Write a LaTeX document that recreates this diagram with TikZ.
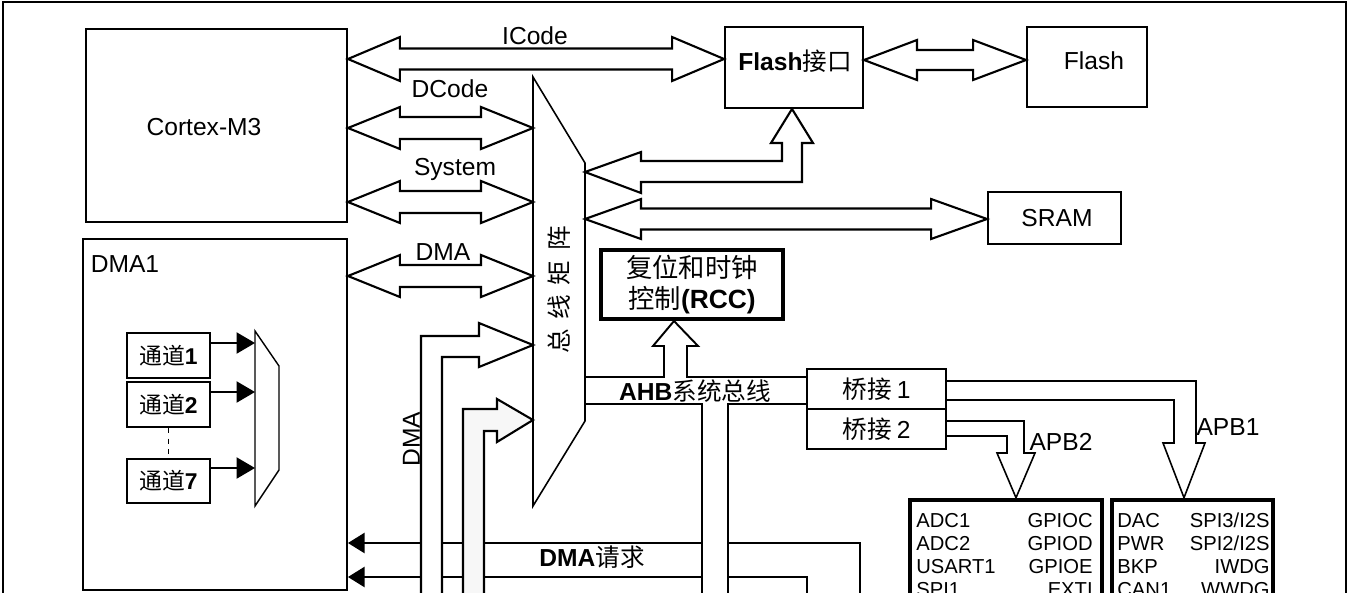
\documentclass[tikz,border=0pt]{standalone}
\usepackage{fontspec}
\setmainfont{Liberation Sans}
\newfontfamily\cjk{Noto Sans CJK SC}
\usetikzlibrary{calc,arrows.meta}

% wide bus arrow with a head at both ends: from, to, head length, head half width, shaft half width
\newcommand{\fatbus}[5]{%
  \draw[bus] (#1) -- ($(#1)+(#3,-#4)$) -- ($(#1)+(#3,-#5)$) -- ($(#2)+(-#3,-#5)$)
    -- ($(#2)+(-#3,-#4)$) -- (#2) -- ($(#2)+(-#3,#4)$) -- ($(#2)+(-#3,#5)$)
    -- ($(#1)+(#3,#5)$) -- ($(#1)+(#3,#4)$) -- cycle;}

\begin{document}
\begin{tikzpicture}[x=0.02cm,y=-0.02cm]
  \tikzstyle{box}=[draw,line width=1.1pt,inner sep=0pt]
  \tikzstyle{heavy}=[draw,line width=2.3pt,inner sep=0pt]
  \tikzstyle{txt}=[inner sep=0pt,font=\fontsize{14}{16}\selectfont,text height=10pt,text depth=0pt]
  \tikzstyle{small}=[inner sep=0pt,font=\fontsize{11.5}{13}\selectfont,text height=8.2pt,text depth=0pt]
  \tikzstyle{chan}=[box,minimum width=1.66cm,minimum height=0.9cm,font=\fontsize{13}{15}\selectfont]
  \tikzstyle{bus}=[draw,line width=1.2pt,fill=white]
  \tikzstyle{link}=[draw,line width=1.1pt]
  \tikzstyle{apb}=[draw,line width=0.9pt]
  \tikzstyle{tri}=[link,-{Triangle[length=9.5pt,width=11.5pt]}]

  \useasboundingbox (0,0) rectangle (1352,592);
  \clip (0,0) rectangle (1352,592);
  \draw[line width=1.3pt] (3,650) -- (3,2) -- (1346,2) -- (1346,650);

  % blocks
  \node[box,minimum width=5.22cm,minimum height=3.86cm] (cm) at (216.5,125.5) {};
  \node[txt] (cm-t) at (204,126.5) {Cortex-M3};
  \node[box,minimum width=5.28cm,minimum height=7.02cm] (dma1) at (215,414.5) {};
  \node[txt] (dma1-t) at (125,263.5) {DMA1};
  \node[box,minimum width=2.76cm,minimum height=1.62cm] (fi) at (794,67.5) {};
  \node[txt] (fi-t) at (795,62) {\textbf{Flash}{\cjk 接口}};
  \node[box,minimum width=2.4cm,minimum height=1.6cm] (fl) at (1087,67) {};
  \node[txt] (fl-t) at (1094,61) {Flash};
  \node[box,minimum width=2.66cm,minimum height=1.04cm] (sram) at (1054.5,218) {};
  \node[txt] (sram-t) at (1057,218) {SRAM};
  \node[heavy,minimum width=3.64cm,minimum height=1.38cm,align=center,
        font=\fontsize{15}{18}\selectfont] (rcc) at (692,284.5)
        {{\cjk 复位和时钟}\\{\cjk 控制}\textbf{(RCC)}};
  \node[box,minimum width=2.78cm,minimum height=0.8cm,font=\fontsize{14}{16}\selectfont]
        (br1) at (876.5,389) {{\cjk 桥接}\hspace{3pt}1};
  \node[box,minimum width=2.78cm,minimum height=0.8cm,font=\fontsize{14}{16}\selectfont]
        (br2) at (876.5,429) {{\cjk 桥接}\hspace{3pt}2};
  \node[heavy,line width=2.6pt,minimum width=3.84cm,minimum height=3.2cm] (apb2) at (1006,580) {};
  \node[heavy,line width=2.6pt,minimum width=3.22cm,minimum height=3.2cm] (apb1) at (1192.5,580) {};
  \foreach \l/\r [count=\i] in {ADC1/GPIOC,ADC2/GPIOD,USART1/GPIOE,SPI1/EXTI}
    {\node[small,anchor=west] (a2l\i) at (916,497+23*\i) {\l};
     \node[small,anchor=east] (a2r\i) at (1093,497+23*\i) {\r};}
  \foreach \l/\r [count=\i] in {DAC/{SPI3/I2S},PWR/{SPI2/I2S},BKP/IWDG,CAN1/WWDG}
    {\node[small,anchor=west] (a1l\i) at (1117,497+23*\i) {\l};
     \node[small,anchor=east] (a1r\i) at (1270,497+23*\i) {\r};}

  % DMA1 channels and selector
  \node[chan] (ch1) at (168.5,355.5) {{\cjk 通道}\textbf{1}};
  \node[chan] (ch2) at (168.5,404.5) {{\cjk 通道}\textbf{2}};
  \node[chan,minimum height=0.88cm] (ch7) at (168.5,481) {{\cjk 通道}\textbf{7}};
  \draw[line width=1pt,dash pattern=on 3pt off 3pt] (ch2.south) -- (ch7.north);
  \draw[line width=0.8pt] (255,331) -- (279,366) -- (279,470) -- (255,506) -- cycle;
  \coordinate (mux1) at (255,343);
  \coordinate (mux2) at (255,392);
  \coordinate (mux7) at (255,468);
  \draw[link,-{Triangle[length=10.5pt,width=12pt]}] (ch1.east |- mux1) -- (mux1);
  \draw[link,-{Triangle[length=10.5pt,width=12pt]}] (ch2.east |- mux2) -- (mux2);
  \draw[link,-{Triangle[length=10.5pt,width=12pt]}] (ch7.east |- mux7) -- (mux7);

  % DMA requests
  \coordinate (rq1) at (860,620);
  \coordinate (rq2) at (807,620);
  \draw[tri] (rq1) -- (860,543) -- (dma1.east |- 0,543);
  \draw[tri] (rq2) -- (807,577) -- (dma1.east |- 0,577);
  \node[txt] (rq-t) at (592,558) {\textbf{DMA}{\cjk 请求}};

  % bus matrix
  \coordinate (bm-tl) at (533,77);
  \coordinate (bm-tr) at (585,163);
  \coordinate (bm-br) at (585,421);
  \coordinate (bm-bl) at (533,506);
  \coordinate (bm-dc) at (533,128);
  \coordinate (bm-sys) at (533,202);
  \coordinate (bm-dma) at (533,276);
  \coordinate (bm-in1) at (533,345);
  \coordinate (bm-in2) at (533,420);
  \coordinate (bm-fl) at (585,172);
  \coordinate (bm-sr) at (585,219);
  \coordinate (bm-ahb1) at (585,377);
  \coordinate (bm-ahb2) at (585,404);
  \draw[line width=0.9pt] (bm-tl) -- (bm-tr) -- (bm-br) -- (bm-bl) -- cycle;
  \node[txt,rotate=90] (bm-t) at (560,290)
        {\cjk 总\hspace{5.5pt}线\hspace{5.5pt}矩\hspace{5.5pt}阵};

  % DMA paths into the matrix
  \draw[bus] (421,620) -- (421,336) -- (479,336) -- (479,323) -- (bm-in1)
        -- (479,367) -- (479,357) -- (442,357) -- (442,620);
  \draw[bus,fill=black!3] (463,620) -- (463,409) -- (497,409) -- (497,399) -- (bm-in2)
        -- (497,442) -- (497,431) -- (484,431) -- (484,620);
  \node[txt,rotate=90] (dmav-t) at (411,439) {DMA};

  % Cortex and DMA buses
  \coordinate (ic-l) at (cm.east |- 0,59);
  \coordinate (ic-r) at (fi.west |- 0,59);
  \coordinate (dc-l) at (cm.east |- bm-dc);
  \coordinate (sys-l) at (cm.east |- bm-sys);
  \coordinate (dma-l) at (dma1.east |- bm-dma);
  \fatbus{ic-l}{ic-r}{52}{22}{10.5}
  \fatbus{dc-l}{bm-dc}{52}{21}{11}
  \fatbus{sys-l}{bm-sys}{52}{21}{11}
  \fatbus{dma-l}{bm-dma}{52}{21}{11}
  \node[txt] (ic-t) at (535,36) {ICode};
  \node[txt] (dc-t) at (450,89) {DCode};
  \node[txt] (sys-t) at (455,167) {System};
  \node[txt] (dma-t) at (443,252) {DMA};

  % memories
  \coordinate (fl-l) at (fi.east |- 0,60);
  \coordinate (fl-r) at (fl.west |- 0,60);
  \fatbus{fl-l}{fl-r}{53}{20}{10}
  \coordinate (sr-r) at (sram.west |- bm-sr);
  \fatbus{bm-sr}{sr-r}{56}{20}{10.5}
  \draw[bus] (bm-fl) -- (641,152) -- (641,161) -- (782,161) -- (782,143) -- (771,143)
        -- (792,0 |- fi.south) -- (813,143) -- (802,143) -- (802,182) -- (641,182)
        -- (641,193) -- cycle;

  % AHB and the bridges
  \fill[white] (702,404) rectangle (728,620);
  \draw[link] (bm-ahb1) -- (664,377) -- (664,346) -- (653,346) -- (674,0 |- rcc.south)
        -- (698,346) -- (687,346) -- (687,377) -- (br1.west |- 0,377);
  \draw[link] (bm-ahb2) -- (702,404) -- (702,620);
  \draw[link] (728,620) -- (728,404) -- (br1.west |- 0,404);
  \node[txt] (ahb-t) at (695,392) {\textbf{AHB}{\cjk 系统总线}};
  \draw[apb] (br1.east |- 0,381) -- (1196,381) -- (1196,443) -- (1205,443)
        -- (1184,0 |- apb1.north) -- (1163,443) -- (1174,443) -- (1174,400)
        -- (br1.east |- 0,400);
  \draw[apb] (br2.east |- 0,421) -- (1024,421) -- (1024,453) -- (1035,453)
        -- (1016,0 |- apb2.north) -- (997,453) -- (1007,453) -- (1007,436)
        -- (br2.east |- 0,436);
  \node[txt] (apb1-t) at (1228,427) {APB1};
  \node[txt] (apb2-t) at (1061,442) {APB2};
\end{tikzpicture}
\end{document}
